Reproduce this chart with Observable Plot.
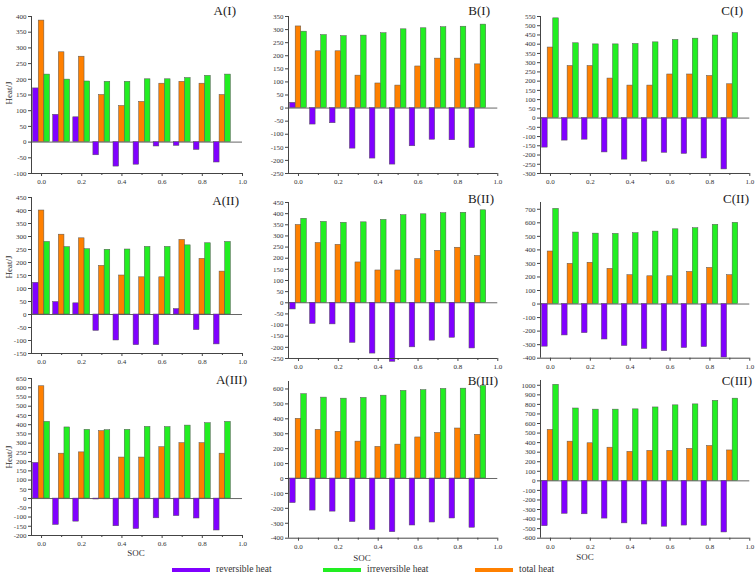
<!DOCTYPE html>
<html>
<head>
<meta charset="utf-8">
<script src="https://cdn.jsdelivr.net/npm/d3@7"></script>
<script src="https://cdn.jsdelivr.net/npm/@observablehq/plot@0.6"></script>
<style>
  html, body { margin: 0; padding: 0; background: #fff; }
  #root { position: relative; width: 756px; height: 578px; overflow: hidden; font-family: "Liberation Serif", "DejaVu Serif", serif; color: #333; }
  .abs { position: absolute; white-space: nowrap; line-height: 1; }
  .title { font-size: 13px; color: #222; transform: translate(-100%, -50%); }
  .ctr { transform: translate(-50%, -50%); }
  .ylab { font-size: 9px; transform: translate(-50%, -50%) rotate(-90deg); }
  .xlab { font-size: 9px; }
  .legtxt { font-size: 9.5px; transform: translateY(-50%); }
  .legsw { height: 4px; transform: translateY(-50%); }
  svg { position: absolute; overflow: visible; }
  svg text { font-family: "Liberation Serif", "DejaVu Serif", serif; }
</style>
</head>
<body>
<div id="root"></div>
<script>
// ---------- data ----------
const soc = [0.0, 0.1, 0.2, 0.3, 0.4, 0.5, 0.6, 0.7, 0.8, 0.9];
const seriesNames = ["reversible heat", "irreversible heat", "total heat"];
const xTickLabels = [0.0, 0.2, 0.4, 0.6, 0.8, 1.0];
const xMinorTicks = [0.1, 0.3, 0.5, 0.7, 0.9];

// A(I)
const revA1 = [171, 87, 79, -42, -78, -72, -14, -12, -25, -65];
const totA1 = [387, 286, 272, 150, 115, 128, 186, 192, 186, 150];
const irrA1 = [215, 199, 193, 192, 192, 200, 200, 204, 211, 215];
// B(I)
const revB1 = [20, -63, -58, -155, -193, -216, -146, -121, -123, -153];
const totB1 = [312, 217, 217, 124, 94, 86, 159, 189, 189, 167];
const irrB1 = [292, 279, 275, 277, 286, 301, 305, 309, 311, 319];
// C(I)
const revC1 = [-160, -122, -117, -186, -225, -236, -188, -194, -219, -278];
const totC1 = [382, 282, 282, 214, 176, 176, 236, 236, 228, 183];
const irrC1 = [540, 405, 399, 399, 401, 410, 423, 430, 447, 460];
// A(II)
const revA2 = [122, 48, 43, -63, -100, -118, -118, 21, -60, -115];
const totA2 = [400, 307, 293, 187, 150, 143, 143, 287, 214, 165];
const irrA2 = [279, 259, 251, 249, 250, 260, 260, 266, 274, 279];
// B(II)
const revB2 = [-30, -95, -97, -180, -228, -265, -200, -170, -157, -205];
const totB2 = [349, 268, 260, 181, 145, 145, 196, 233, 247, 210];
const irrB2 = [377, 363, 359, 361, 372, 393, 397, 402, 404, 415];
// C(II)
const revC2 = [-315, -232, -215, -262, -310, -332, -348, -325, -318, -395];
const totC2 = [388, 297, 305, 260, 213, 205, 205, 237, 267, 213];
const irrC2 = [703, 528, 520, 518, 523, 535, 552, 560, 585, 600];
// A(III)
const revA3 = [193, -143, -125, -5, -150, -165, -107, -95, -108, -173];
const totA3 = [608, 243, 250, 365, 222, 222, 278, 300, 300, 243];
const irrA3 = [415, 385, 372, 370, 372, 388, 387, 395, 408, 415];
// B(III)
const revB3 = [-165, -215, -222, -292, -345, -360, -315, -295, -268, -330];
const totB3 = [400, 326, 313, 247, 212, 227, 275, 305, 335, 293];
const irrB3 = [565, 542, 535, 540, 555, 587, 592, 600, 602, 620];
// C(III)
const revC3 = [-475, -345, -350, -395, -445, -457, -480, -468, -470, -540];
const totC3 = [533, 410, 393, 347, 303, 313, 313, 335, 365, 318];
const irrC3 = [1005, 757, 745, 745, 748, 768, 790, 800, 837, 860];

// ---------- layout ----------
const colors = {rev: "#8000ff", irr: "#22ee22", tot: "#ff8000"};
const root = document.getElementById("root");

const panels = [
  {title: "A(I)",   rev: revA1, tot: totA1, irr: irrA1, ymin: -100, ymax: 400,  step: 50,  x0: 30.7, x1: 241.7, y0: 16,  y1: 173,   tx: 236, ty: 10},
  {title: "B(I)",   rev: revB1, tot: totB1, irr: irrB1, ymin: -250, ymax: 350,  step: 50,  x0: 287.7, x1: 497,  y0: 16,  y1: 173,   tx: 490, ty: 10},
  {title: "C(I)",   rev: revC1, tot: totC1, irr: irrC1, ymin: -300, ymax: 550,  step: 50,  x0: 540,  x1: 749.3, y0: 16,  y1: 173,   tx: 743, ty: 10},
  {title: "A(II)",  rev: revA2, tot: totA2, irr: irrA2, ymin: -150, ymax: 450,  step: 50,  x0: 30.7, x1: 241.7, y0: 197, y1: 353,   tx: 239, ty: 200},
  {title: "B(II)",  rev: revB2, tot: totB2, irr: irrB2, ymin: -250, ymax: 450,  step: 50,  x0: 287.7, x1: 497,  y0: 202, y1: 358,   tx: 494, ty: 198},
  {title: "C(II)",  rev: revC2, tot: totC2, irr: irrC2, ymin: -400, ymax: 750,  step: 100, x0: 540,  x1: 749.3, y0: 202, y1: 357.7, tx: 749, ty: 198},
  {title: "A(III)", rev: revA3, tot: totA3, irr: irrA3, ymin: -200, ymax: 650,  step: 50,  x0: 30.7, x1: 241.7, y0: 378, y1: 535,   tx: 247, ty: 379},
  {title: "B(III)", rev: revB3, tot: totB3, irr: irrB3, ymin: -400, ymax: 650,  step: 100, x0: 287.7, x1: 497,  y0: 381, y1: 537.7, tx: 498, ty: 380},
  {title: "C(III)", rev: revC3, tot: totC3, irr: irrC3, ymin: -600, ymax: 1050, step: 100, x0: 540,  x1: 749.3, y0: 380, y1: 537.7, tx: 752, ty: 380}
];

const ML = 34, MR = 10, MT = 6, MB = 18;
const bw = 0.028;

function div(cls, text, styles) {
  const d = document.createElement("div");
  d.className = "abs " + cls;
  d.textContent = text;
  Object.assign(d.style, styles);
  root.appendChild(d);
  return d;
}

for (const p of panels) {
  const rows = soc.map((s, i) => ({soc: s, rev: p.rev[i], tot: p.tot[i], irr: p.irr[i]}));
  const yTicks = d3.range(p.ymin, p.ymax + 0.001, p.step).filter(v => v <= p.ymax);
  const W = (p.x1 - p.x0) + ML + MR;
  const H = (p.y1 - p.y0) + MT + MB;
  const barMark = (key, off) => Plot.rect(rows, {
    x1: d => d.soc + off - bw / 2,
    x2: d => d.soc + off + bw / 2,
    y1: 0,
    y2: d => d[key],
    fill: colors[key],
    stroke: "#555",
    strokeWidth: 0.5
  });
  const svg = Plot.plot({
    width: W, height: H,
    marginLeft: ML, marginRight: MR, marginTop: MT, marginBottom: MB,
    x: {domain: [-0.05, 1.0]},
    y: {domain: [p.ymin, p.ymax]},
    style: {fontFamily: "'Liberation Serif', 'DejaVu Serif', serif", fontSize: "7px", color: "#333", background: "transparent", overflow: "visible"},
    marks: [
      Plot.ruleY([0], {stroke: "#666", strokeWidth: 1}),
      barMark("rev", -bw),
      barMark("tot", 0),
      barMark("irr", bw),
      Plot.ruleX([-0.05], {y1: p.ymin, y2: p.ymax, stroke: "#444", strokeWidth: 1}),
      Plot.ruleY([p.ymin], {x1: -0.05, x2: 1.0, stroke: "#444", strokeWidth: 1}),
      Plot.axisY(yTicks, {tickSize: 3, tickPadding: 2, label: null, stroke: "#444", tickFormat: d => String(d)}),
      Plot.axisX(xTickLabels, {tickSize: 3, tickPadding: 3, label: null, stroke: "#444", tickFormat: d3.format(".1f")}),
      Plot.axisX(xMinorTicks, {tickSize: 2, label: null, stroke: "#444", tickFormat: () => ""})
    ]
  });
  svg.style.left = (p.x0 - ML) + "px";
  svg.style.top = (p.y0 - MT) + "px";
  root.appendChild(svg);
  div("title", p.title, {left: p.tx + "px", top: p.ty + "px"});
}

// y-axis titles (column A)
div("ylab", "Heat/J", {left: "9px", top: "93px"});
div("ylab", "Heat/J", {left: "9px", top: "267px"});
div("ylab", "Heat/J", {left: "9px", top: "457px"});
// x-axis titles (row III)
div("xlab ctr", "SOC", {left: "136px", top: "553px"});
div("xlab ctr", "SOC", {left: "362px", top: "558px"});
div("xlab ctr", "SOC", {left: "585px", top: "557px"});

// legend
const legendItems = [
  {name: seriesNames[0], color: colors.rev, x: 172},
  {name: seriesNames[1], color: colors.irr, x: 323},
  {name: seriesNames[2], color: colors.tot, x: 475}
];
for (const it of legendItems) {
  div("legsw", "", {left: it.x + "px", top: "570px", width: "38px", background: it.color});
  div("legtxt", it.name, {left: (it.x + 44) + "px", top: "570px"});
}
</script>
</body>
</html>
